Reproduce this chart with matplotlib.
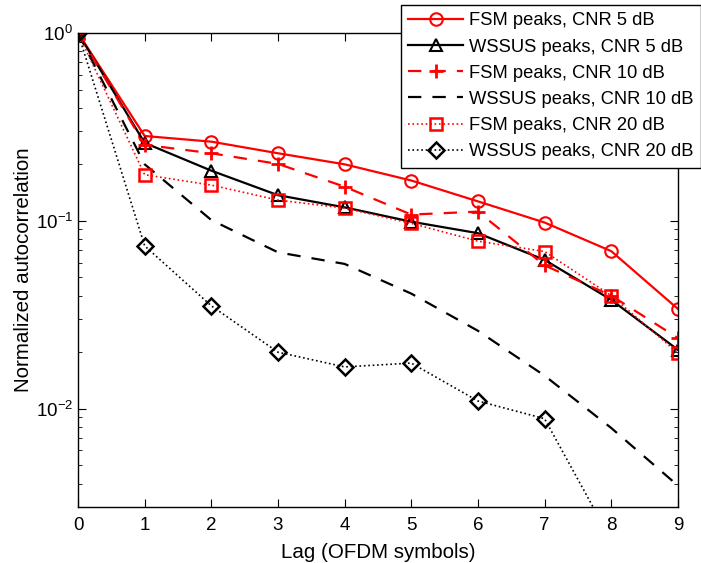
import numpy as np
import matplotlib
matplotlib.use("Agg")
import matplotlib.pyplot as plt
from matplotlib.ticker import LogLocator, NullFormatter

plt.rcParams["font.family"] = ["Liberation Sans", "DejaVu Sans"]
plt.rcParams["mathtext.fontset"] = "custom"
plt.rcParams["mathtext.rm"] = "Liberation Sans"
plt.rcParams["mathtext.it"] = "Liberation Sans:italic"

lags = np.arange(10)
fsm_5 = [1.0, 0.283, 0.264, 0.229, 0.200, 0.164, 0.127, 0.098, 0.069, 0.034]
wssus_5 = [1.0, 0.260, 0.185, 0.137, 0.118, 0.099, 0.086, 0.062, 0.038, 0.0206]
fsm_10 = [1.0, 0.254, 0.229, 0.201, 0.152, 0.108, 0.112, 0.058, 0.040, 0.0238]
wssus_10 = [1.0, 0.200, 0.101, 0.068, 0.059, 0.041, 0.026, 0.015, 0.0079, 0.0039]
fsm_20 = [1.0, 0.176, 0.155, 0.129, 0.117, 0.097, 0.078, 0.0687, 0.040, 0.0198]
wssus_20 = [1.0, 0.0736, 0.0353, 0.020, 0.0167, 0.0175, 0.011, 0.00885, 0.0020, 0.0010]

fig = plt.figure(figsize=(7.01, 5.63), dpi=100)
ax = fig.add_axes([0.1113, 0.0995, 0.8557, 0.8419])

ax.plot(lags, fsm_5, "r-o", lw=1.6, ms=9, mfc="none", mew=1.5, label="FSM peaks, CNR 5 dB")
ax.plot(lags, wssus_5, "k-^", lw=1.6, ms=9, mfc="none", mew=1.5, label="WSSUS peaks, CNR 5 dB")
ax.plot(lags, fsm_10, "r--+", lw=1.6, ms=10, mew=2, label="FSM peaks, CNR 10 dB", dashes=(6, 5))
ax.plot(lags, wssus_10, "k--", lw=1.6, label="WSSUS peaks, CNR 10 dB", dashes=(6, 5))
ax.plot(lags, fsm_20, "r:s", lw=1.2, ms=8, mfc="none", mew=1.8, label="FSM peaks, CNR 20 dB")
ax.plot(lags, wssus_20, "k:D", lw=1.2, ms=8, mfc="none", mew=1.8, label="WSSUS peaks, CNR 20 dB")

ax.set_yscale("log")
ax.set_xlim(0, 9)
ax.set_ylim(0.003, 1)
ax.set_xticks(range(10))
ax.yaxis.set_major_locator(LogLocator(base=10))
ax.yaxis.set_minor_locator(LogLocator(base=10, subs=np.arange(2, 10)))
ax.yaxis.set_minor_formatter(NullFormatter())
ax.tick_params(which="both", direction="in", top=True, right=True, labelsize=13.5)
ax.tick_params(which="major", length=6)
ax.tick_params(which="minor", length=3)
ax.tick_params(axis="x", pad=7.5)
for s in ax.spines.values():
    s.set_linewidth(1.0)

ax.set_xlabel("Lag (OFDM symbols)", fontsize=14.8, labelpad=6)
ax.set_ylabel("Normalized autocorrelation", fontsize=14.8, labelpad=2)

leg = ax.legend(loc="upper left", bbox_to_anchor=(0.538, 1.059), borderaxespad=0,
                fontsize=13.2, frameon=True, fancybox=False, edgecolor="black",
                framealpha=1, handlelength=3.0, borderpad=0.4, labelspacing=0.5,
                handletextpad=0.35)
leg.get_frame().set_linewidth(1.0)

fig.savefig("out.png", dpi=100)
